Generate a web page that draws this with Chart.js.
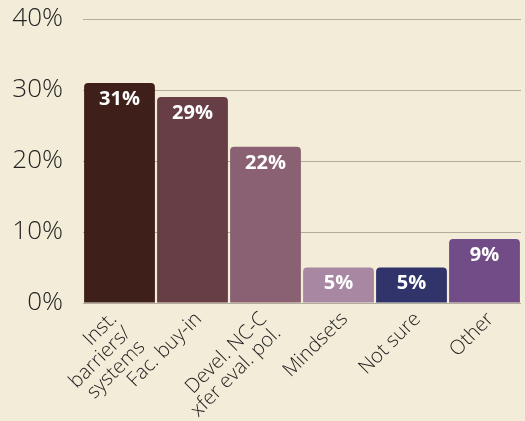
<!DOCTYPE html>
<html>
<head>
<meta charset="utf-8">
<script src="https://cdn.jsdelivr.net/npm/chart.js@4/dist/chart.umd.min.js"></script>
<style>
  html, body { margin: 0; padding: 0; background: #f3ecd8; }
  #wrap { width: 525px; height: 421px; }
</style>
</head>
<body>
<div id="wrap"><canvas id="barChart" width="525" height="421"></canvas></div>
<script>
// data
const categories = [
    ['Inst.', 'barriers/', 'systems'],
    'Fac. buy-in',
    ['Devel. NC-C', 'xfer eval. pol.'],
    'Mindsets',
    'Not sure',
    'Other'
];
const shares = [31, 29, 22, 5, 5, 9];
const barColors = ['#3f1f1a', '#673e45', '#8a6172', '#a887a2', '#31346b', '#724c87'];
const yTicks = [0, 10, 20, 30, 40];

// white percentage labels inside the top of each bar
const valueLabels = {
    id: 'valueLabels',
    afterDatasetsDraw(chart) {
        const ctx = chart.ctx;
        const meta = chart.getDatasetMeta(0);
        ctx.save();
        ctx.fillStyle = '#ffffff';
        ctx.font = 'bold 20px "Open Sans"';
        ctx.textAlign = 'center';
        ctx.textBaseline = 'middle';
        meta.data.forEach(function (bar, i) {
            ctx.fillText(shares[i] + '%', bar.x, bar.y + 16);
        });
        ctx.restore();
    }
};

// rotated category labels, multi-line ones nudged left like the original
const slantedLabels = {
    id: 'slantedLabels',
    afterDraw(chart) {
        const ctx = chart.ctx;
        const xs = chart.scales.x;
        const shiftX = [10, 2, -2];
        const lineH = 20;
        ctx.save();
        ctx.fillStyle = '#222222';
        ctx.font = '300 20px "Open Sans"';
        ctx.textAlign = 'right';
        ctx.textBaseline = 'alphabetic';
        chart.data.labels.forEach(function (lab, i) {
            const lines = Array.isArray(lab) ? lab : [lab];
            const x = xs.getPixelForTick(i) + shiftX[lines.length - 1];
            const y = xs.top + 17;
            ctx.save();
            ctx.translate(x, y);
            ctx.rotate(-Math.PI / 4);
            lines.forEach(function (line, k) {
                ctx.fillText(line, 0, k * lineH);
            });
            ctx.restore();
        });
        ctx.restore();
    }
};

var ctx = document.getElementById('barChart').getContext('2d');
new Chart(ctx, {
    type: 'bar',
    data: {
        labels: categories,
        datasets: [{
            data: shares,
            backgroundColor: barColors,
            borderRadius: { topLeft: 4, topRight: 4 },
            borderSkipped: 'bottom',
            barPercentage: 0.97,
            categoryPercentage: 1.0
        }]
    },
    options: {
        responsive: false,
        animation: false,
        layout: { padding: { top: 19, right: 4, left: 0, bottom: 0 } },
        plugins: {
            legend: { display: false },
            tooltip: { enabled: false }
        },
        scales: {
            x: {
                grid: { display: false },
                border: { display: false },
                afterFit(axis) {
                    axis.height = 118;
                    axis.paddingLeft = 0;
                    axis.paddingRight = 0;
                },
                ticks: { display: false }
            },
            y: {
                min: 0,
                max: 40,
                afterBuildTicks(axis) {
                    axis.ticks = yTicks.map(function (v) { return { value: v }; });
                },
                afterFit(axis) {
                    axis.width = 83;
                    axis.paddingTop = 0;
                    axis.paddingBottom = 0;
                },
                grid: { color: '#b3ab9c', drawTicks: false, lineWidth: 1 },
                border: { display: false },
                ticks: {
                    color: '#222222',
                    font: { family: 'Open Sans', size: 26, weight: 300 },
                    padding: 20,
                    callback: function (v) { return v + '%'; }
                }
            }
        }
    },
    plugins: [valueLabels, slantedLabels]
});
</script>
</body>
</html>
